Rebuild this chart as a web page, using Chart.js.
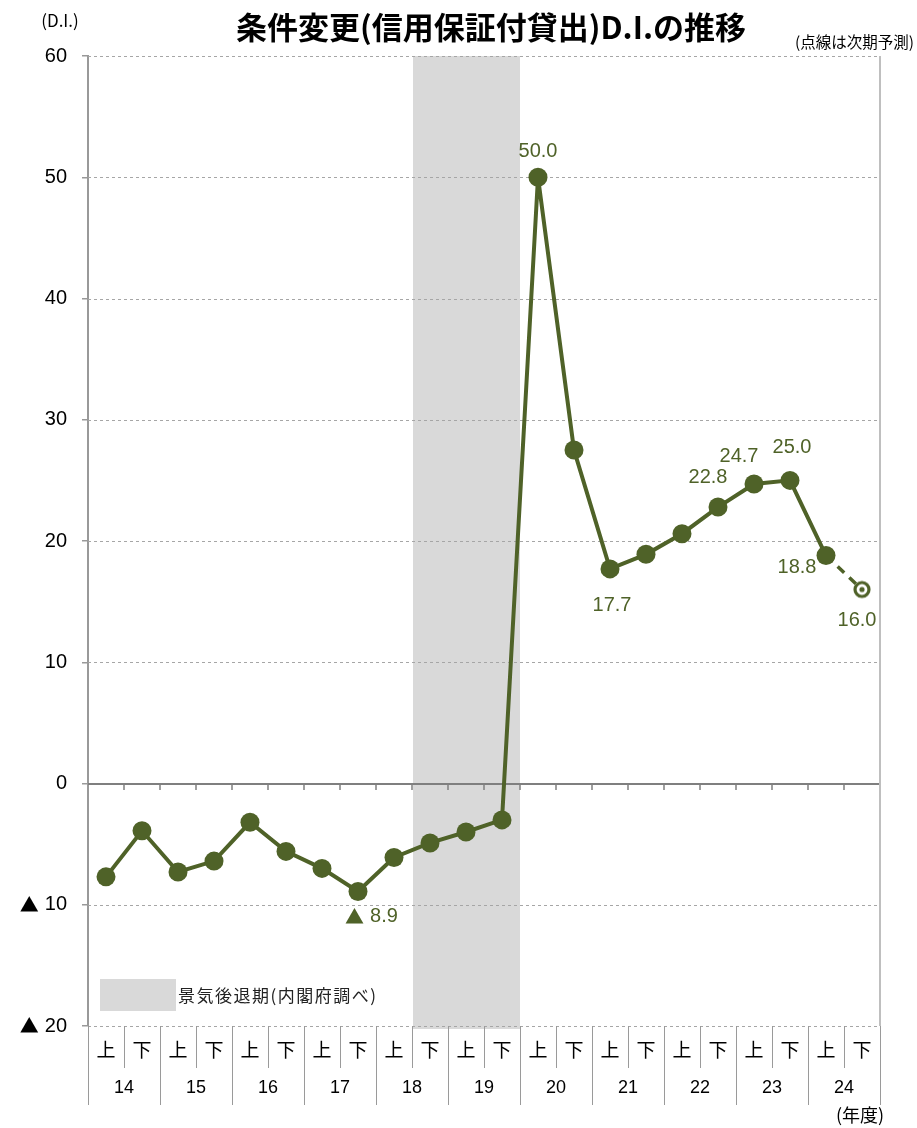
<!DOCTYPE html>
<html>
<head>
<meta charset="utf-8">
<script src="https://cdn.jsdelivr.net/npm/chart.js@4"></script>
<style>
  body { margin: 0; background: #fff; }
  #wrap { width: 917px; height: 1128px; }
</style>
</head>
<body>
<div id="wrap"><canvas id="diChart" width="917" height="1128"></canvas></div>
<script>
const years = ['14', '15', '16', '17', '18', '19', '20', '21', '22', '23', '24'];
const halves = ['上', '下'];
const categories = years.flatMap(y => halves.map(h => y + h));

// actual D.I. (negative = ▲)
const actualDI = [-7.7, -3.9, -7.3, -6.4, -3.2, -5.6, -7.0, -8.9, -6.1, -4.9, -4.0, -3.0,
  50.0, 27.5, 17.7, 18.9, 20.6, 22.8, 24.7, 25.0, 18.8, null];
// next-period forecast (dashed)
const forecastDI = [null, null, null, null, null, null, null, null, null, null, null, null,
  null, null, null, null, null, null, null, null, 18.8, 16.0];
// recession period (Cabinet Office)
const recessionCats = ['18下', '19上', '19下'];
const labelledCats = ['17下', '20上', '21上', '22下', '23上', '23下', '24上', '24下'];

const yTicks = { min: -20, max: 60, step: 10 };

const OLIVE = '#4F6228';
const LATIN = '"Liberation Sans", "Noto Sans CJK JP", sans-serif';
const CJK = '"Noto Sans CJK JP", sans-serif';

// label offsets from the point, px
const labelOffsets = {
  '17下': [14, 25], '20上': [0, -26], '21上': [2, 37], '22下': [-10, -30],
  '23上': [-15, -28], '23下': [2, -33], '24上': [-29, 12], '24下': [-5, 31]
};

const hollowMarker = (() => {
  const c = document.createElement('canvas');
  c.width = 22; c.height = 22;
  const g = c.getContext('2d');
  g.fillStyle = '#fff';
  g.strokeStyle = OLIVE;
  g.lineWidth = 3.2;
  g.beginPath(); g.arc(11, 11, 7, 0, Math.PI * 2); g.fill(); g.stroke();
  g.fillStyle = OLIVE;
  g.beginPath(); g.arc(11, 11, 2.6, 0, Math.PI * 2); g.fill();
  return c;
})();

// "▲" drawn bigger than the digits, like the source
function drawSigned(ctx, v, xRight, y, size, digits) {
  const num = digits ? Math.abs(v).toFixed(digits) : String(Math.abs(v));
  ctx.textAlign = 'right';
  ctx.font = size + 'px ' + LATIN;
  ctx.fillText(num, xRight, y);
  if (v < 0) {
    const nw = ctx.measureText(num).width;
    ctx.font = (size - 1) + 'px ' + CJK;
    ctx.fillText('▲', xRight - nw - 6, y);
  }
}

const backdrop = {
  id: 'backdrop',
  beforeDatasetsDraw(chart) {
    const { ctx, chartArea: a, scales: { y } } = chart;
    const w = (a.right - a.left) / categories.length;
    ctx.save();
    // recession shading
    const idx = recessionCats.map(c => categories.indexOf(c));
    const x0 = a.left + Math.min(...idx) * w;
    const x1 = a.left + (Math.max(...idx) + 1) * w;
    ctx.fillStyle = '#d9d9d9';
    ctx.fillRect(x0 + 1, a.top, x1 - x0 - 1, a.bottom - a.top + 3);
    // dotted gridlines
    ctx.strokeStyle = '#a6a6a6';
    ctx.lineWidth = 1;
    ctx.setLineDash([3, 3]);
    for (let v = yTicks.min; v <= yTicks.max; v += yTicks.step) {
      if (v === 0) continue;
      const py = Math.round(y.getPixelForValue(v)) + 0.5;
      ctx.beginPath(); ctx.moveTo(a.left, py); ctx.lineTo(a.right, py); ctx.stroke();
    }
    ctx.setLineDash([]);
    // zero line with category ticks
    const zy = Math.round(y.getPixelForValue(0));
    ctx.strokeStyle = '#7f7f7f';
    ctx.lineWidth = 2;
    ctx.beginPath(); ctx.moveTo(a.left, zy); ctx.lineTo(a.right, zy); ctx.stroke();
    ctx.lineWidth = 1.5;
    for (let k = 1; k <= categories.length; k++) {
      const px = Math.round(a.left + k * w);
      ctx.beginPath(); ctx.moveTo(px, zy); ctx.lineTo(px, zy + 6); ctx.stroke();
    }
    // right border
    ctx.strokeStyle = '#bfbfbf';
    ctx.lineWidth = 2;
    ctx.beginPath(); ctx.moveTo(a.right, a.top); ctx.lineTo(a.right, a.bottom); ctx.stroke();

    // y tick labels
    ctx.fillStyle = '#000';
    ctx.textBaseline = 'middle';
    for (let v = yTicks.min; v <= yTicks.max; v += yTicks.step) {
      drawSigned(ctx, v, a.left - 21, y.getPixelForValue(v), 20, 0);
    }
    ctx.restore();
  }
};

const annotations = {
  id: 'annotations',
  afterDraw(chart) {
    const { ctx, chartArea: a } = chart;
    const w = (a.right - a.left) / categories.length;
    ctx.save();

    // data labels
    ctx.fillStyle = OLIVE;
    ctx.textBaseline = 'middle';
    labelledCats.forEach(cat => {
      const i = categories.indexOf(cat);
      const ds = forecastDI[i] !== null && actualDI[i] === null ? 1 : 0;
      const pt = chart.getDatasetMeta(ds).data[i];
      const v = ds ? forecastDI[i] : actualDI[i];
      const [dx, dy] = labelOffsets[cat];
      ctx.font = '20px ' + LATIN;
      const txt = Math.abs(v).toFixed(1);
      const half = ctx.measureText(txt).width / 2;
      drawSigned(ctx, v, pt.x + dx + (v < 0 ? half + 12 : half), pt.y + dy, 20, 1);
    });

    // title and notes
    ctx.fillStyle = '#000';
    ctx.textAlign = 'center';
    ctx.font = 'bold 31px ' + CJK;
    ctx.fillText('条件変更(信用保証付貸出)D.I.の推移', 491, 27);
    ctx.font = '17px ' + CJK;
    ctx.fillText('(D.I.)', 60, 21);
    ctx.textAlign = 'right';
    ctx.font = '15.5px ' + CJK;
    ctx.fillText('(点線は次期予測)', 914, 42);

    // legend
    ctx.fillStyle = '#d9d9d9';
    ctx.fillRect(100, 979, 76, 32);
    ctx.fillStyle = '#222';
    ctx.textAlign = 'left';
    ctx.font = '17px ' + CJK;
    ctx.letterSpacing = '1.5px';
    ctx.fillText('景気後退期(内閣府調べ)', 178, 996);
    ctx.letterSpacing = '0px';

    // category table below the plot
    const top = a.bottom, mid = top + 42, bot = top + 79;
    ctx.strokeStyle = '#9a9a9a';
    ctx.lineWidth = 1;
    for (let k = 0; k <= categories.length; k++) {
      const px = Math.round(a.left + k * w) + 0.5;
      ctx.beginPath();
      ctx.moveTo(px, top);
      ctx.lineTo(px, k % 2 === 0 ? bot : mid);
      ctx.stroke();
    }
    ctx.fillStyle = '#000';
    ctx.textAlign = 'center';
    ctx.font = '19px ' + CJK;
    categories.forEach((c, i) => {
      ctx.fillText(halves[i % 2], a.left + (i + 0.5) * w, top + 24);
    });
    ctx.font = '18px ' + LATIN;
    years.forEach((yr, j) => {
      ctx.fillText(yr, a.left + (j + 1) * 2 * w - w, top + 62);
    });
    ctx.font = '18px ' + CJK;
    ctx.fillText('(年度)', 860, 1115);
    ctx.restore();
  }
};

new Chart(document.getElementById('diChart').getContext('2d'), {
  type: 'line',
  data: {
    labels: categories,
    datasets: [
      {
        label: 'D.I.',
        data: actualDI,
        borderColor: OLIVE,
        backgroundColor: OLIVE,
        borderWidth: 4,
        pointRadius: 9.5,
        pointBorderWidth: 0,
        tension: 0,
        order: 0
      },
      {
        label: '予測',
        data: forecastDI,
        borderColor: OLIVE,
        backgroundColor: OLIVE,
        borderWidth: 3.5,
        borderDash: [9, 7],
        pointRadius: ctx => ctx.dataIndex === categories.length - 1 ? 8 : 0,
        pointStyle: ctx => ctx.dataIndex === categories.length - 1 ? hollowMarker : 'circle',
        tension: 0,
        order: 1
      }
    ]
  },
  options: {
    responsive: false,
    animation: false,
    layout: { padding: { top: 56, right: 37, bottom: 102, left: 0 } },
    plugins: { legend: { display: false }, tooltip: { enabled: false }, title: { display: false } },
    scales: {
      x: { type: 'category', offset: true, display: false },
      y: {
        min: yTicks.min,
        max: yTicks.max,
        afterFit: s => { s.width = 88; },
        ticks: { stepSize: yTicks.step, display: false },
        grid: { drawOnChartArea: false, drawTicks: true, tickLength: 6, color: '#999', lineWidth: 1.5 },
        border: { display: true, color: '#999', width: 2 }
      }
    }
  },
  plugins: [backdrop, annotations]
});
</script>
</body>
</html>
